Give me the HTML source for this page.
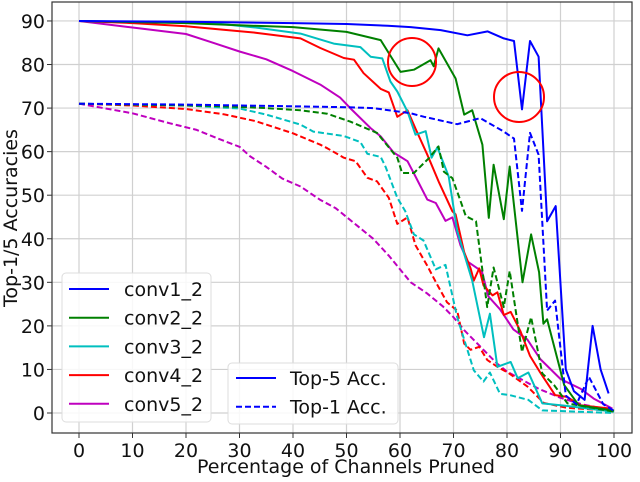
<!DOCTYPE html>
<html><head><meta charset="utf-8"><style>
body{margin:0;background:#fff}
svg text{font-family:"DejaVu Sans","Liberation Sans",sans-serif;fill:#111}
</style></head><body>
<svg id="chart" width="640" height="477" viewBox="0 0 640 477" xmlns="http://www.w3.org/2000/svg">
<g id="grid"></g>
<g id="series"></g>
<g id="annot"></g>
<rect x="52" y="2" width="580" height="431" fill="none" stroke="#333" stroke-width="1.2"/>
<g id="ticks"></g>
<text x="346" y="473" font-size="19" text-anchor="middle">Percentage of Channels Pruned</text>
<text transform="translate(17,218) rotate(-90)" font-size="19" text-anchor="middle">Top-1/5 Accuracies</text>
<g id="legend1"></g>
<g id="legend2"></g>
</svg>
<script>
const xTicks=[0,10,20,30,40,50,60,70,80,90,100];
const yTicks=[0,10,20,30,40,50,60,70,80,90];
const layerNames=["conv1_2","conv2_2","conv3_2","conv4_2","conv5_2"];
const colors=["#0000ff","#008000","#00bfbf","#ff0000","#bf00bf"];
// conv1_2
const c1x5=[0,20,40,50,57.7,62,67.6,72.6,76.4,79.4,81.3,82.8,84.3,85.9,87.5,89.1,91,92.5,94.5,96,97.5,99];
const c1y5=[90,89.8,89.5,89.3,88.9,88.6,87.9,86.7,87.6,86,85.4,69.7,85.4,81.8,44,47.5,10,5,3,20,10,4.5];
const c1x1=[0,20,40,50,55,62,64.5,70.7,75,79.4,81.3,82.8,84.3,85.9,87.5,89,91,93,95.3,98,100];
const c1y1=[71,70.8,70.4,70.2,70,68.8,68,66.3,67.7,64.6,63,46.4,64.3,59.3,23.5,25.8,4,2,8.3,2,0.5];
// conv2_2
const c2x5=[0,20,30,40,50,56.4,60.1,62.6,65.7,66.3,67.2,70.4,72,73.5,75.4,76.6,77.5,79.4,80.5,82.9,84.5,86,86.8,87.5,90.7,93.4,100];
const c2y5=[90,89.5,89,88.6,87.5,85.6,78.3,78.8,81,79.6,83.7,76.8,68.5,69.5,61.6,44.8,57,44.5,56.6,30,41,32.3,20.5,21.5,6.4,1.8,0.5];
const c2x1=[0,25,35,41.4,46.4,50.7,55.7,59.5,60.4,62.6,65.4,67.2,68.2,69.8,71.3,72.3,74.2,76.3,77.5,79.4,80.5,82.8,84.5,86.6,88.8,91.3,100];
const c2y1=[71,70.5,70,69.5,68.7,66.9,64.3,58.6,55.1,55.1,58.5,61.2,55.4,53.9,48.7,45.2,44,24.3,33.4,24.3,32.6,14,22,9.1,6.4,2.2,0.3];
// conv3_2
const c3x5=[0,25,33,41.4,47.6,52.6,54.5,56.7,58.2,59.5,61.4,62.9,64.8,65.9,67,69.1,70.7,73.5,75.7,76.8,78.2,80.7,82,84,86.6,90.7,100];
const c3y5=[90,89.5,88.5,87.1,84.8,84,81.8,81.4,76.1,73.8,69.2,63.9,64.7,58.6,61,54.3,41.8,30.4,17.4,22.8,10.6,11.7,8,9.3,2.2,1.7,0.3];
const c3x1=[0,20,30,35,41.4,43.8,49.5,52.6,53.9,56.4,57.3,59.5,61,62.6,64.4,66.7,68.5,70.7,73.8,75.6,76.8,78.7,80.5,84,86.6,100];
const c3y1=[71,70.6,69.9,68.5,66.2,64.6,63.6,62.2,59.5,58.8,56.5,49.4,46.3,41,39.6,33,34,22,9.8,7.2,9.3,4.4,4.1,3,0.6,0];
// conv4_2
const c4x5=[0,10,20,27,33,41.4,45.1,49.5,51.4,53.2,56.4,57.9,59.5,61.4,62.9,65.1,67.3,69.8,70.4,72,73.2,73.8,74.8,75.6,77.3,78.2,79.4,80.7,82.5,84.3,86.2,89,91.2,93.7,99.4];
const c4y5=[90,89.5,88.8,88,87.3,86,83.8,81.5,81.1,78,74.4,73.6,68,69.5,65.3,59.3,52.9,46.3,45.6,36.9,33.2,30.4,33.2,29.3,27,27.7,22.5,23.2,18.8,13.1,9.3,4.1,3.7,1.8,1];
const c4x1=[0,10,20,27,33,40,45.1,46.4,49.5,51.7,53.9,55.7,57.9,59.5,61.4,62.9,65.1,66.9,68.8,70.7,72,73.2,74.8,76.3,78.2,80.4,83.8,86.9,91.2,100];
const c4y1=[71,70.6,69.8,68.6,67,64.2,61.6,60.8,58.6,57.8,54,53.2,49.4,43.4,44.9,38.5,33.8,29.6,25.4,23.5,15.9,14.5,15.2,12.2,10.6,9.1,6.1,2.3,1.2,0.5];
// conv5_2
const c5x5=[0,10,20,25,30,35,40,45.1,48.8,50.7,54.5,56.4,58.8,61.4,62.9,65.1,66.7,68.5,69.8,71.3,72.7,75.3,76.5,78.7,81.2,83.8,86.2,90,93.7,96.2,99.7];
const c5y5=[90,88.5,87,85,83,81.2,78.5,75.4,72.4,70,65.4,63.5,59.8,57.8,54.3,49,48.2,44.1,44.9,38.5,34.7,32.5,26.8,23.8,19.2,16.9,12.4,7.8,5.6,3.3,1];
const c5x1=[0,10,17,22,26,30,32,35,38,41.4,45,48,52,55,58,60,62,65,68,70,72,74,76,78,80,83,86,90,94,100];
const c5y1=[71,68.8,66.5,65,63,61.1,58.9,56.5,53.8,52,49,47,43,40,36,33,30,27.5,24.5,22,19,16.5,14,11.5,9.5,7.5,5.5,3.5,2,0.5];

const X=v=>79+v*5.35, Y=v=>413-v*4.356;
const NS="http://www.w3.org/2000/svg";
function mk(tag,attrs,parent){const e=document.createElementNS(NS,tag);for(const k in attrs)e.setAttribute(k,attrs[k]);parent.appendChild(e);return e;}
const grid=document.getElementById('grid'),ticks=document.getElementById('ticks');
xTicks.forEach(t=>{
  const g=mk('line',{x1:X(t),x2:X(t),y1:2,y2:433,stroke:'#d0d0d0','stroke-width':1.2},grid);
  
  
  const tk=mk('line',{x1:X(t),x2:X(t),y1:433,y2:438,stroke:'#333'},ticks);
  
  
  const tx=mk('text',{x:X(t),y:457,'font-size':19,'text-anchor':'middle'},ticks);tx.textContent=t;
  
  
});
yTicks.forEach(t=>{
  const g=mk('line',{x1:52,x2:632,y1:Y(t),y2:Y(t),stroke:'#d0d0d0','stroke-width':1.2},grid);
  
  
  const tk=mk('line',{x1:47,x2:52,y1:Y(t),y2:Y(t),stroke:'#333'},ticks);
  
  
  const tx=mk('text',{x:45,y:Y(t)+7,'font-size':19,'text-anchor':'end'},ticks);tx.textContent=t;
  
  
});
const S=document.getElementById('series');
const data=[[c1x5,c1y5,c1x1,c1y1],[c2x5,c2y5,c2x1,c2y1],[c3x5,c3y5,c3x1,c3y1],[c4x5,c4y5,c4x1,c4y1],[c5x5,c5y5,c5x1,c5y1]];
function line(xs,ys,col,dash,name){
  const d=xs.map((x,i)=>(i?'L':'M')+X(x).toFixed(1)+' '+Y(ys[i]).toFixed(1)).join(' ');
  const p=mk('path',{d:d,fill:'none',stroke:col,'stroke-width':2,'stroke-linejoin':'round'},S);
  if(dash)p.setAttribute('stroke-dasharray','6 3');
  
  
}
for(let i=4;i>=0;i--){
  line(data[i][2],data[i][3],colors[i],true,layerNames[i]+'-top1-line');
  line(data[i][0],data[i][1],colors[i],false,layerNames[i]+'-top5-line');
}
const A=document.getElementById('annot');
const c1=mk('circle',{cx:412,cy:62,r:24,fill:'none',stroke:'#ff0000','stroke-width':2},A);


const c2=mk('circle',{cx:519,cy:97,r:25,fill:'none',stroke:'#ff0000','stroke-width':2},A);


const L1=document.getElementById('legend1');
const b1=mk('rect',{x:62,y:273,width:149,height:149,rx:4,fill:'#fff','fill-opacity':0.85,stroke:'#ddd'},L1);


layerNames.forEach((n,i)=>{
  const yy=289+i*28.7;
  const l=mk('line',{x1:69,x2:109,y1:yy,y2:yy,stroke:colors[i],'stroke-width':2},L1);
  
  
  const t=mk('text',{x:124,y:yy+7,'font-size':19},L1);t.textContent=n;
  
  
});
const L2=document.getElementById('legend2');
const b2=mk('rect',{x:228,y:363,width:170,height:61,rx:4,fill:'#fff','fill-opacity':0.85,stroke:'#ddd'},L2);


[["Top-5 Acc.",false],["Top-1 Acc.",true]].forEach((e,i)=>{
  const yy=378+i*28.7;
  const l=mk('line',{x1:236,x2:276,y1:yy,y2:yy,stroke:'#0000ff','stroke-width':2},L2);
  if(e[1])l.setAttribute('stroke-dasharray','6 3');
  
  
  const t=mk('text',{x:290,y:yy+7,'font-size':19},L2);t.textContent=e[0];
  
  
});
</script>
</body></html>
